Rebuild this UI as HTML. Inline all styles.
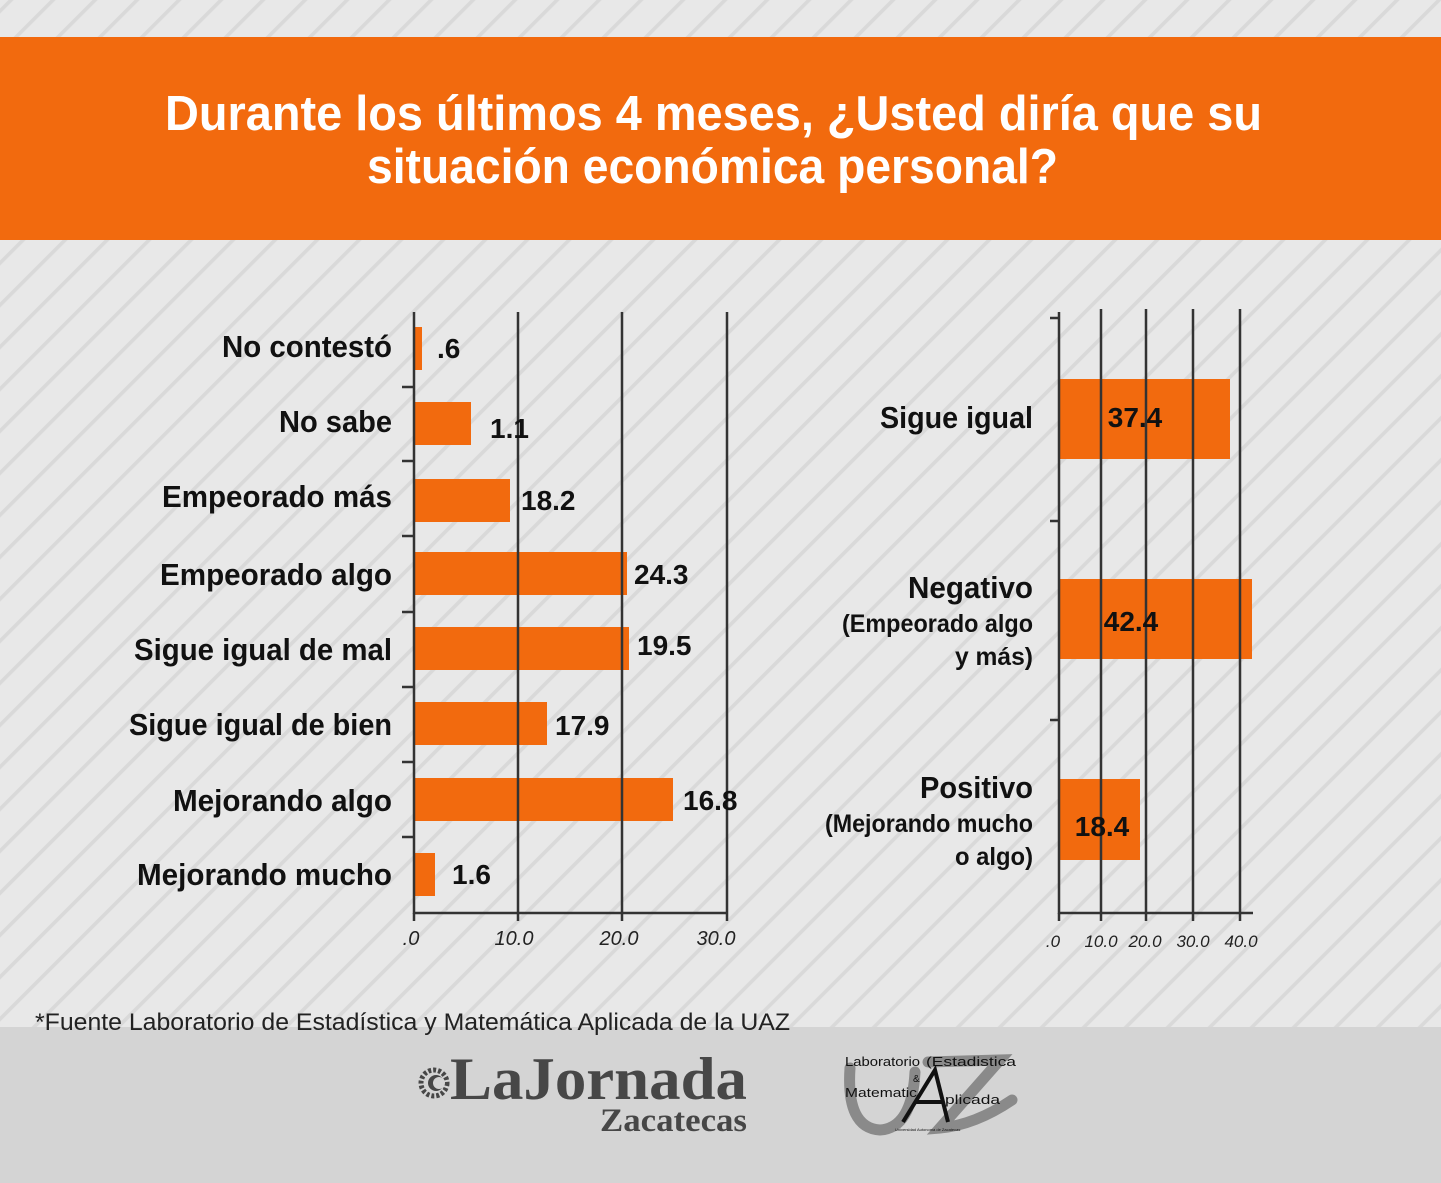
<!DOCTYPE html>
<html>
<head>
<meta charset="utf-8">
<style>
  html,body{margin:0;padding:0;background:#e8e8e8;}
  svg{display:block;}
  text{font-family:"Liberation Sans",Arial,sans-serif;}
</style>
</head>
<body>
<svg width="1441" height="1183" viewBox="0 0 1441 1183" xmlns="http://www.w3.org/2000/svg">
  <defs>
    <pattern id="stripes" patternUnits="userSpaceOnUse" width="29.7" height="29.7" patternTransform="rotate(45)">
      <rect x="0" y="0" width="29.7" height="29.7" fill="#e8e8e8"/>
      <rect x="6" y="0" width="3.6" height="29.7" fill="#d9d9d9"/>
    </pattern>
  </defs>

  <rect x="0" y="0" width="1441" height="1183" fill="url(#stripes)"/>

  <!-- header -->
  <rect x="0" y="37" width="1441" height="203" fill="#f26a0e"/>
  <text x="713.5" y="130" font-size="49" font-weight="bold" fill="#ffffff" text-anchor="middle" textLength="1097" lengthAdjust="spacingAndGlyphs">Durante los últimos 4 meses, ¿Usted diría que su</text>
  <text x="712.5" y="183" font-size="49" font-weight="bold" fill="#ffffff" text-anchor="middle" textLength="691" lengthAdjust="spacingAndGlyphs">situación económica personal?</text>

  <!-- footer band -->
  <rect x="0" y="1027" width="1441" height="156" fill="#d4d4d4"/>

  <!-- ================= LEFT CHART ================= -->
  <g fill="#f26a0e">
    <rect x="415" y="327" width="7" height="43"/>
    <rect x="415" y="402" width="56" height="43"/>
    <rect x="415" y="479" width="95" height="43"/>
    <rect x="415" y="552" width="212" height="43"/>
    <rect x="415" y="627" width="214" height="43"/>
    <rect x="415" y="702" width="132" height="43"/>
    <rect x="415" y="778" width="258" height="43"/>
    <rect x="415" y="853" width="20" height="43"/>
  </g>
  <g stroke="#333" stroke-width="2.5" fill="none">
    <line x1="518" y1="312" x2="518" y2="913"/>
    <line x1="622" y1="312" x2="622" y2="913"/>
    <line x1="727" y1="312" x2="727" y2="913"/>
    <line x1="414" y1="312" x2="414" y2="914"/>
    <line x1="413" y1="913" x2="728" y2="913"/>
    <line x1="414" y1="913" x2="414" y2="921"/>
    <line x1="518" y1="913" x2="518" y2="921"/>
    <line x1="622" y1="913" x2="622" y2="921"/>
    <line x1="727" y1="913" x2="727" y2="921"/>
    <line x1="402" y1="387" x2="414" y2="387"/>
    <line x1="402" y1="461" x2="414" y2="461"/>
    <line x1="402" y1="536" x2="414" y2="536"/>
    <line x1="402" y1="612" x2="414" y2="612"/>
    <line x1="402" y1="687" x2="414" y2="687"/>
    <line x1="402" y1="762" x2="414" y2="762"/>
    <line x1="402" y1="837" x2="414" y2="837"/>
  </g>
  <g font-size="31" font-weight="bold" fill="#111" text-anchor="end">
    <text x="392" y="357" textLength="170" lengthAdjust="spacingAndGlyphs">No contestó</text>
    <text x="392" y="432" textLength="113" lengthAdjust="spacingAndGlyphs">No sabe</text>
    <text x="392" y="507" textLength="230" lengthAdjust="spacingAndGlyphs">Empeorado más</text>
    <text x="392" y="585" textLength="232" lengthAdjust="spacingAndGlyphs">Empeorado algo</text>
    <text x="392" y="660" textLength="258" lengthAdjust="spacingAndGlyphs">Sigue igual de mal</text>
    <text x="392" y="735" textLength="263" lengthAdjust="spacingAndGlyphs">Sigue igual de bien</text>
    <text x="392" y="811" textLength="219" lengthAdjust="spacingAndGlyphs">Mejorando algo</text>
    <text x="392" y="885" textLength="255" lengthAdjust="spacingAndGlyphs">Mejorando mucho</text>
  </g>
  <g font-size="28" font-weight="bold" fill="#111">
    <text x="437" y="358">.6</text>
    <text x="490" y="438">1.1</text>
    <text x="521" y="510">18.2</text>
    <text x="634" y="584">24.3</text>
    <text x="637" y="655">19.5</text>
    <text x="555" y="735">17.9</text>
    <text x="683" y="810">16.8</text>
    <text x="452" y="884">1.6</text>
  </g>
  <g font-size="20" font-style="italic" fill="#222" text-anchor="middle">
    <text x="411" y="945">.0</text>
    <text x="514" y="945">10.0</text>
    <text x="619" y="945">20.0</text>
    <text x="716" y="945">30.0</text>
  </g>

  <!-- ================= RIGHT CHART ================= -->
  <g fill="#f26a0e">
    <rect x="1060" y="379" width="170" height="80"/>
    <rect x="1060" y="579" width="192" height="80"/>
    <rect x="1060" y="779" width="80" height="81"/>
  </g>
  <g stroke="#333" stroke-width="2.5" fill="none">
    <line x1="1101" y1="309" x2="1101" y2="913"/>
    <line x1="1146" y1="309" x2="1146" y2="913"/>
    <line x1="1193" y1="309" x2="1193" y2="913"/>
    <line x1="1240" y1="309" x2="1240" y2="913"/>
    <line x1="1059" y1="312" x2="1059" y2="914"/>
    <line x1="1058" y1="913" x2="1253" y2="913"/>
    <line x1="1059" y1="913" x2="1059" y2="921"/>
    <line x1="1101" y1="913" x2="1101" y2="921"/>
    <line x1="1146" y1="913" x2="1146" y2="921"/>
    <line x1="1193" y1="913" x2="1193" y2="921"/>
    <line x1="1240" y1="913" x2="1240" y2="921"/>
    <line x1="1050" y1="318" x2="1059" y2="318"/>
    <line x1="1050" y1="521" x2="1059" y2="521"/>
    <line x1="1050" y1="720" x2="1059" y2="720"/>
  </g>
  <g font-weight="bold" fill="#111" text-anchor="end">
    <text x="1033" y="428" font-size="31" textLength="153" lengthAdjust="spacingAndGlyphs">Sigue igual</text>
    <text x="1033" y="598" font-size="31" textLength="125" lengthAdjust="spacingAndGlyphs">Negativo</text>
    <text x="1033" y="632" font-size="25" textLength="191" lengthAdjust="spacingAndGlyphs">(Empeorado algo</text>
    <text x="1033" y="665" font-size="25" textLength="78" lengthAdjust="spacingAndGlyphs">y más)</text>
    <text x="1033" y="798" font-size="31" textLength="113" lengthAdjust="spacingAndGlyphs">Positivo</text>
    <text x="1033" y="832" font-size="25" textLength="208" lengthAdjust="spacingAndGlyphs">(Mejorando mucho</text>
    <text x="1033" y="865" font-size="25" textLength="78" lengthAdjust="spacingAndGlyphs">o algo)</text>
  </g>
  <g font-size="28" font-weight="bold" fill="#111" text-anchor="middle">
    <text x="1135" y="427">37.4</text>
    <text x="1131" y="631">42.4</text>
    <text x="1102" y="836">18.4</text>
  </g>
  <g font-size="17" font-style="italic" fill="#222" text-anchor="middle">
    <text x="1053" y="947">.0</text>
    <text x="1101" y="947">10.0</text>
    <text x="1145" y="947">20.0</text>
    <text x="1193" y="947">30.0</text>
    <text x="1241" y="947">40.0</text>
  </g>

  <!-- footer source -->
  <text x="35" y="1030" font-size="24" fill="#222" textLength="755" lengthAdjust="spacingAndGlyphs">*Fuente Laboratorio de Estadística y Matemática Aplicada de la UAZ</text>

  <!-- La Jornada logo -->
  <g fill="#474747">
    <circle cx="434" cy="1083" r="13" fill="none" stroke="#474747" stroke-width="5" stroke-dasharray="3 2"/>
    <circle cx="436" cy="1083" r="8"/>
    <circle cx="439" cy="1083" r="6" fill="#d4d4d4"/>
    <text x="450" y="1099" font-size="60" font-weight="bold" textLength="297" lengthAdjust="spacingAndGlyphs" style="font-family:'Liberation Serif',serif">LaJornada</text>
    <text x="600" y="1131" font-size="33" font-weight="bold" textLength="147" lengthAdjust="spacingAndGlyphs" style="font-family:'Liberation Serif',serif">Zacatecas</text>
  </g>

  <!-- UAZ logo -->
  <g fill="none" stroke="#8a8a8a" stroke-width="11" stroke-linecap="round">
    <path d="M850 1068 Q846 1128 880 1130 Q912 1128 915 1072"/>
    <path d="M928 1062 L1000 1060 L940 1128 Q975 1125 1012 1100"/>
  </g>
  <g fill="none" stroke="#111" stroke-width="4">
    <path d="M903 1122 L935 1070 L948 1122"/>
    <path d="M915 1102 L942 1102"/>
  </g>
  <g fill="#111" font-size="13" style="font-family:'Liberation Serif',serif">
    <text x="845" y="1066" textLength="75" lengthAdjust="spacingAndGlyphs">Laboratorio</text>
    <text x="926" y="1066" textLength="90" lengthAdjust="spacingAndGlyphs">(Estadistica</text>
    <text x="913" y="1082" font-size="10">&amp;</text>
    <text x="845" y="1097" textLength="72" lengthAdjust="spacingAndGlyphs">Matematic</text>
    <text x="945" y="1104" textLength="55" lengthAdjust="spacingAndGlyphs">plicada</text>
    <text x="895" y="1131" font-size="4">Universidad Autonoma de Zacatecas</text>
  </g>
</svg>
</body>
</html>
